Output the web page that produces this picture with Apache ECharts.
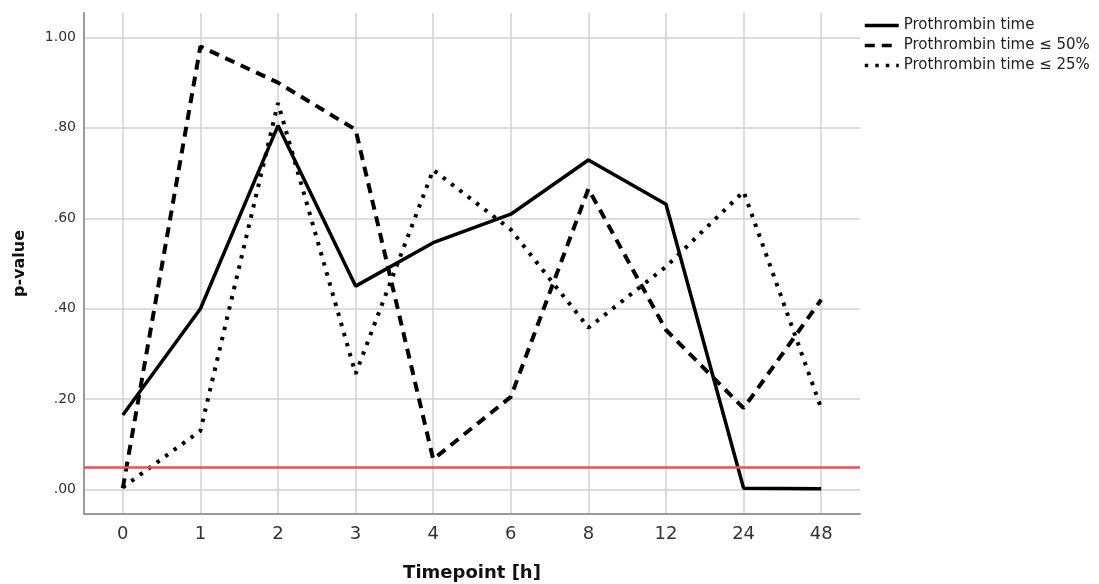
<!DOCTYPE html>
<html>
<head>
<meta charset="utf-8">
<script src="https://cdn.jsdelivr.net/npm/echarts@6/dist/echarts.min.js"></script>
<style>
html, body { margin: 0; padding: 0; background: #fff; }
#chart { width: 1099px; height: 584px; }
</style>
</head>
<body>
<div id="chart"></div>
<script>
var timepoints = ['0', '1', '2', '3', '4', '6', '8', '12', '24', '48'];
var ptAll = [0.165, 0.40, 0.805, 0.45, 0.546, 0.609, 0.729, 0.631, 0.003, 0.002];
var pt50 = [0.003, 0.98, 0.90, 0.796, 0.067, 0.205, 0.665, 0.353, 0.18, 0.42];
var pt25 = [0.005, 0.13, 0.855, 0.256, 0.707, 0.575, 0.358, 0.493, 0.659, 0.18];
var yTicks = [0, 0.2, 0.4, 0.6, 0.8, 1.0];
var alpha = 0.05;

var idx = timepoints.map(function (t, i) { return i; });
function pairs(vals) {
	return vals.map(function (v, i) { return [i, v]; });
}

var myChart = echarts.init(document.getElementById('chart'));
var font = 'DejaVu Sans, Verdana, sans-serif';

var option = {
	animation: false,
	grid: {
		left: 84,
		right: 239,
		top: 13,
		bottom: 70,
		outerBoundsMode: 'none'
	},
	legend: {
		orient: 'vertical',
		left: 858,
		top: 13,
		itemWidth: 34,
		itemHeight: 14,
		itemGap: 5,
		itemStyle: { opacity: 0 },
		lineStyle: { width: 3.5 },
		textStyle: { fontFamily: font, fontSize: 15, color: '#222' },
		data: ['Prothrombin time', 'Prothrombin time ≤ 50%', 'Prothrombin time ≤ 25%']
	},
	xAxis: {
		type: 'value',
		min: -0.5,
		max: 9.5,
		name: 'Timepoint [h]',
		nameLocation: 'middle',
		nameGap: 50,
		nameTextStyle: { fontFamily: font, fontSize: 18, fontWeight: 'bold', color: '#111' },
		axisLine: { show: true, onZero: false, lineStyle: { color: '#9a9a9a', width: 2 } },
		axisTick: { show: false, customValues: idx },
		axisLabel: {
			customValues: idx,
			fontFamily: font,
			fontSize: 18,
			color: '#333',
			margin: 11,
			formatter: function (v) { return timepoints[Math.round(v)]; }
		},
		splitLine: { show: true, lineStyle: { color: '#d2d2d2', width: 1.5 } }
	},
	yAxis: {
		type: 'value',
		min: -0.054,
		max: 1.054,
		name: 'p-value',
		nameLocation: 'middle',
		nameGap: 56,
		nameTextStyle: { fontFamily: font, fontSize: 16, fontWeight: 'bold', color: '#111' },
		axisLine: { show: true, onZero: false, lineStyle: { color: '#9a9a9a', width: 2 } },
		axisTick: { show: false, customValues: yTicks },
		axisLabel: {
			customValues: yTicks,
			fontFamily: font,
			fontSize: 14,
			color: '#333',
			margin: 8,
			formatter: function (v) { return v.toFixed(2).replace(/^0/, ''); }
		},
		splitLine: { show: true, lineStyle: { color: '#d2d2d2', width: 1.5 } }
	},
	series: [
		{
			name: 'Prothrombin time',
			type: 'line',
			symbol: 'none',
			data: pairs(ptAll),
			lineStyle: { color: '#000', width: 3.5, type: 'solid' },
			itemStyle: { color: '#000' },
			markLine: {
				silent: true,
				symbol: 'none',
				label: { show: false },
				lineStyle: { color: '#ef4f4f', width: 2.5, type: 'solid' },
				data: [{ yAxis: alpha }]
			},
			z: 3
		},
		{
			name: 'Prothrombin time ≤ 50%',
			type: 'line',
			symbol: 'none',
			data: pairs(pt50),
			lineStyle: { color: '#000', width: 4, type: [10, 7], cap: 'butt' },
			itemStyle: { color: '#000' },
			z: 3
		},
		{
			name: 'Prothrombin time ≤ 25%',
			type: 'line',
			symbol: 'none',
			data: pairs(pt25),
			lineStyle: { color: '#000', width: 4, type: [3.5, 7], cap: 'butt' },
			itemStyle: { color: '#000' },
			z: 3
		}
	]
};
myChart.setOption(option);
</script>
</body>
</html>
